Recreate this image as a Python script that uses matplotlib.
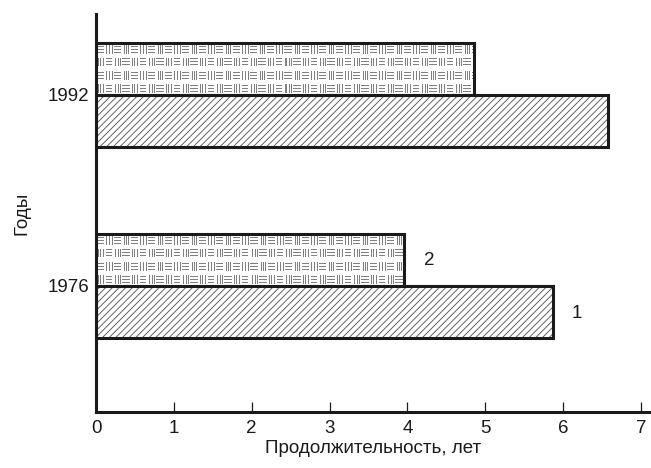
import numpy as np
import matplotlib
matplotlib.use("Agg")
import matplotlib.pyplot as plt

years = ["1976", "1992"]
series1 = [5.87, 6.58]   # нижние столбцы (1)
series2 = [3.96, 4.85]   # верхние столбцы (2)
series_labels = ["1", "2"]

plt.rcParams["font.family"] = ["Liberation Sans", "DejaVu Sans"]
FS = 13.5


def weave_image(width_px, height_px, rows=4, cell_w=8.5):
    """basket-weave texture: alternating blocks of vertical / horizontal lines"""
    img = np.ones((height_px, width_px))
    cell_h = height_px / rows
    ncols = int(np.ceil(width_px / cell_w)) + 1
    for r in range(rows):
        y0 = int(round(r * cell_h))
        y1 = int(round((r + 1) * cell_h))
        for c in range(ncols):
            x0 = c * cell_w + 1
            if (r + c) % 2 == 0:
                for dx in (1, 3.5, 6):
                    xx = int(round(x0 + dx))
                    if xx < width_px:
                        img[y0 + 2:y1 - 2, xx] = 0.5
            else:
                for dy in (3, 6, 9):
                    yy = y0 + dy
                    if yy < y1 - 1:
                        img[yy, int(round(x0)):min(int(round(x0 + 7)), width_px)] = 0.5
    return img


fig = plt.figure(figsize=(6.51, 4.68), dpi=100)
ax = fig.add_axes([0.1475, 0.1197, 0.8525, 0.8504])

ypos = np.arange(len(years))
h = 0.27
px_per_x = 77.8
px_per_y = 191.0

# series 1: diagonal hatch
plt.rcParams["hatch.linewidth"] = 0.6
ax.barh(ypos - h / 2, series1, height=h, color="white", edgecolor="0.3",
        linewidth=0, hatch="/////", zorder=2)
ax.barh(ypos - h / 2, series1, height=h, fill=False, edgecolor="#1a1a1a",
        linewidth=2.2, zorder=4)

# series 2: basket weave texture
bars2 = ax.barh(ypos + h / 2, series2, height=h, color="white",
                edgecolor="#1a1a1a", linewidth=0, zorder=2)
for b, v, y in zip(bars2, series2, ypos):
    wpx = int(v * px_per_x)
    hpx = int(h * px_per_y)
    im = ax.imshow(weave_image(wpx, hpx), cmap="gray", vmin=0, vmax=1,
                   extent=(0, v, y + h, y), interpolation="nearest",
                   aspect="auto", zorder=3)
    im.set_clip_path(b)
ax.barh(ypos + h / 2, series2, height=h, fill=False, edgecolor="#1a1a1a",
        linewidth=2.2, zorder=4)

# series labels next to the 1976 bars
ax.text(series2[0] + 0.26, ypos[0] + h / 2, series_labels[1], fontsize=FS,
        va="center", ha="left", color="#1a1a1a")
ax.text(series1[0] + 0.24, ypos[0] - h / 2 - 0.01, series_labels[0], fontsize=FS,
        va="center", ha="left", color="#1a1a1a")

ax.set_xlim(0, 7.13)
ax.set_ylim(-0.66, 1.424)
ax.set_xticks(range(0, 8))
ax.set_yticks(ypos)
ax.set_yticklabels(years)

ax.spines["top"].set_visible(False)
ax.spines["right"].set_visible(False)
ax.spines["left"].set_linewidth(2.2)
ax.spines["bottom"].set_linewidth(2.2)
ax.spines["left"].set_color("#1a1a1a")
ax.spines["bottom"].set_color("#1a1a1a")

ax.tick_params(axis="x", direction="in", length=7, width=0.9, pad=6,
               labelsize=FS, colors="#1a1a1a")
ax.tick_params(axis="y", length=0, pad=5, labelsize=FS, colors="#1a1a1a")

ax.set_xlabel("Продолжительность, лет", fontsize=FS, color="#1a1a1a", labelpad=2)
ax.set_ylabel("Годы", fontsize=FS, color="#1a1a1a", labelpad=12)

fig.savefig("out.png", dpi=100)
